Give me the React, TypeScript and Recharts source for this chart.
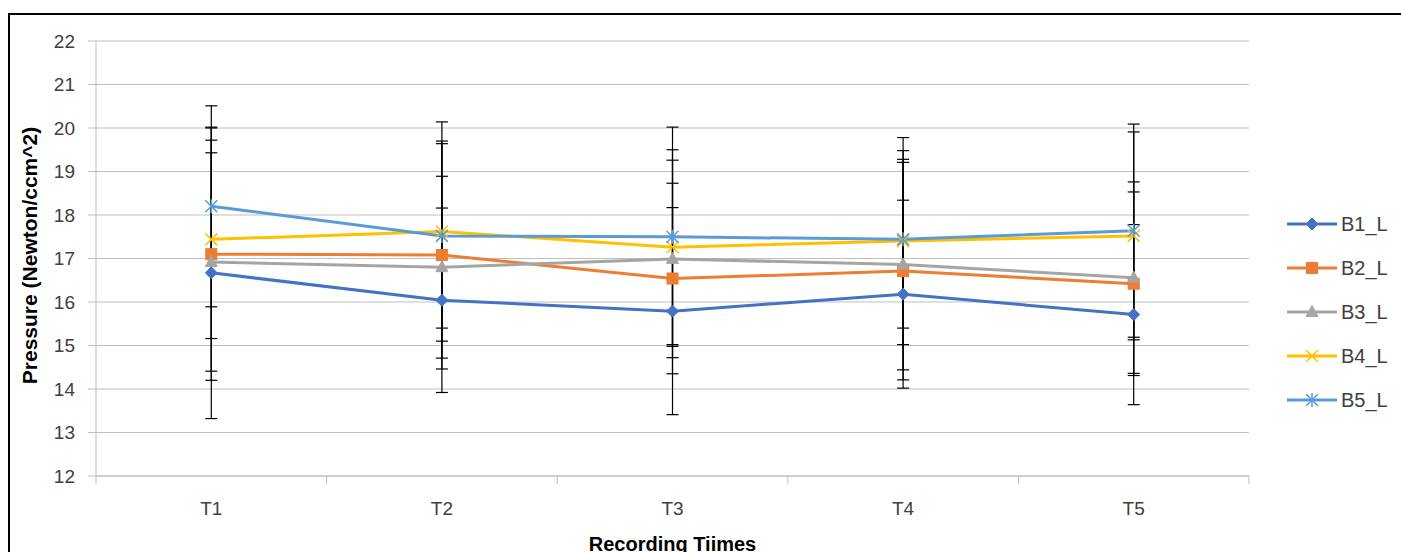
import React from 'react';
import { LineChart, Line, XAxis, YAxis, CartesianGrid, ErrorBar } from 'recharts';

const categories = ['T1', 'T2', 'T3', 'T4', 'T5'];
const b1 = [16.67, 16.04, 15.79, 16.18, 15.71];
const b2 = [17.1, 17.08, 16.54, 16.71, 16.42];
const b3 = [16.92, 16.8, 16.99, 16.86, 16.56];
const b4 = [17.44, 17.62, 17.26, 17.4, 17.52];
const b5 = [18.2, 17.52, 17.5, 17.44, 17.64];
const b1Err = [3.35, 2.12, 2.38, 2.16, 2.07];
const b2Err = [2.9, 2.62, 2.19, 2.5, 2.11];
const b3Err = [2.51, 2.09, 2.27, 2.42, 2.2];
const b4Err = [2.28, 2.52, 2.24, 2.38, 2.39];
const b5Err = [2.31, 2.12, 2.52, 2.04, 2.45];
const yTicks = [12, 13, 14, 15, 16, 17, 18, 19, 20, 21, 22];
const seriesNames = ['B1_L', 'B2_L', 'B3_L', 'B4_L', 'B5_L'];
const seriesColors = ['#4472C4', '#ED7D31', '#A5A5A5', '#FFC000', '#5B9BD5'];
const seriesShapes = ['diamond', 'square', 'triangle', 'x', 'star'];

const values = [b1, b2, b3, b4, b5];
const errs = [b1Err, b2Err, b3Err, b4Err, b5Err];

const data = categories.map((c, i) => {
  const row: any = { name: c, pos: i + 1 };
  values.forEach((v, s) => {
    row['s' + s] = v[i];
    row['e' + s] = errs[s][i];
  });
  return row;
});

const xTicks: number[] = [];
categories.forEach((_, i) => {
  xTicks.push(i + 0.5);
  xTicks.push(i + 1);
});
xTicks.push(categories.length + 0.5);

const FONT = '"Liberation Sans", Arial, sans-serif';

function Marker({ shape, color, cx, cy }: { shape: string; color: string; cx: number; cy: number }) {
  if (cx == null || cy == null) return null;
  switch (shape) {
    case 'diamond':
      return <polygon points={`${cx},${cy - 6} ${cx + 6},${cy} ${cx},${cy + 6} ${cx - 6},${cy}`} fill={color} stroke={color} strokeWidth={1} />;
    case 'square':
      return <rect x={cx - 5.5} y={cy - 5.5} width={11} height={11} fill={color} stroke={color} strokeWidth={1} />;
    case 'triangle':
      return <polygon points={`${cx},${cy - 6.5} ${cx + 6},${cy + 4.5} ${cx - 6},${cy + 4.5}`} fill={color} stroke={color} strokeWidth={1} />;
    case 'x':
      return (
        <g stroke={color} strokeWidth={1.5}>
          <line x1={cx - 6} y1={cy - 6} x2={cx + 6} y2={cy + 6} />
          <line x1={cx - 6} y1={cy + 6} x2={cx + 6} y2={cy - 6} />
        </g>
      );
    case 'star':
      return (
        <g stroke={color} strokeWidth={1.5}>
          <line x1={cx - 6} y1={cy - 6} x2={cx + 6} y2={cy + 6} />
          <line x1={cx - 6} y1={cy + 6} x2={cx + 6} y2={cy - 6} />
          <line x1={cx} y1={cy - 7} x2={cx} y2={cy + 7} />
        </g>
      );
    default:
      return null;
  }
}

function makeDot(s: number) {
  return (props: any) => (
    <Marker key={`dot-${s}-${props.index}`} shape={seriesShapes[s]} color={seriesColors[s]} cx={props.cx} cy={props.cy} />
  );
}

function XTick(props: any) {
  const { x, y, payload } = props;
  const v = payload.value;
  if (Math.abs(v - Math.round(v)) > 0.01) {
    return <line x1={x} y1={y} x2={x} y2={y + 8} stroke="#BFBFBF" strokeWidth={1} />;
  }
  const label = categories[Math.round(v) - 1];
  return (
    <text x={x} y={y + 32} textAnchor="middle" dominantBaseline="central" fontFamily={FONT} fontSize={19} fill="#404040">
      {label}
    </text>
  );
}

function YTitle(props: any) {
  const vb = props.viewBox;
  const cx = 19;
  const cy = vb.y + vb.height / 2 - 3;
  return (
    <text x={cx} y={cy} transform={`rotate(-90, ${cx}, ${cy})`} textAnchor="middle" dominantBaseline="central" fontFamily={FONT} fontSize={21} fontWeight="bold" fill="#000">
      Pressure (Newton/ccm^2)
    </text>
  );
}

function XTitle(props: any) {
  const vb = props.viewBox;
  const cx = vb.x + vb.width / 2;
  return (
    <text x={cx} y={529} textAnchor="middle" dominantBaseline="central" fontFamily={FONT} fontSize={20} fontWeight="bold" fill="#000">
      Recording Tiimes
    </text>
  );
}

export default function App() {
  return (
    <div
      style={{
        position: 'fixed',
        left: 8,
        top: 13,
        width: 1393,
        height: 539,
        borderTop: '2px solid #000',
        borderLeft: '2px solid #000',
        boxSizing: 'border-box',
        background: '#fff',
        overflow: 'hidden',
      }}
    >
      <LineChart width={1391} height={537} data={data} margin={{ top: 26, right: 152, left: 0, bottom: 0 }}>
        <CartesianGrid vertical={false} stroke="#BFBFBF" strokeWidth={1} />
        <XAxis
          dataKey="pos"
          type="number"
          domain={[0.5, categories.length + 0.5]}
          ticks={xTicks}
          interval={0}
          allowDecimals
          height={76}
          tickSize={0}
          tickMargin={0}
          tickLine={false}
          axisLine={{ stroke: '#BFBFBF', strokeWidth: 1 }}
          tick={<XTick />}
          label={<XTitle />}
        />
        <YAxis
          type="number"
          domain={[12, 22]}
          ticks={yTicks}
          interval={0}
          width={86}
          tickSize={8}
          tickMargin={13}
          tickLine={{ stroke: '#BFBFBF' }}
          axisLine={{ stroke: '#BFBFBF', strokeWidth: 1 }}
          tick={{ fontFamily: FONT, fontSize: 19, fill: '#404040' }}
          label={<YTitle />}
        />
        {seriesNames.map((n, s) => (
          <Line
            key={n}
            type="linear"
            dataKey={'s' + s}
            name={n}
            stroke={seriesColors[s]}
            strokeWidth={3}
            dot={makeDot(s)}
            activeDot={false}
            isAnimationActive={false}
          >
            <ErrorBar dataKey={'e' + s} direction="y" width={6} stroke="#000" strokeWidth={1.2} isAnimationActive={false} />
          </Line>
        ))}
      </LineChart>
      <div style={{ position: 'absolute', left: 1277, top: 187, width: 120 }}>
        {seriesNames.map((n, s) => (
          <div key={n} style={{ height: 44, display: 'flex', alignItems: 'center' }}>
            <svg width={52} height={20} style={{ display: 'block' }}>
              <line x1={0} y1={10} x2={50} y2={10} stroke={seriesColors[s]} strokeWidth={3} />
              <Marker shape={seriesShapes[s]} color={seriesColors[s]} cx={25} cy={10} />
            </svg>
            <span style={{ fontFamily: FONT, fontSize: 20, color: '#404040', marginLeft: 2 }}>{n}</span>
          </div>
        ))}
      </div>
    </div>
  );
}
